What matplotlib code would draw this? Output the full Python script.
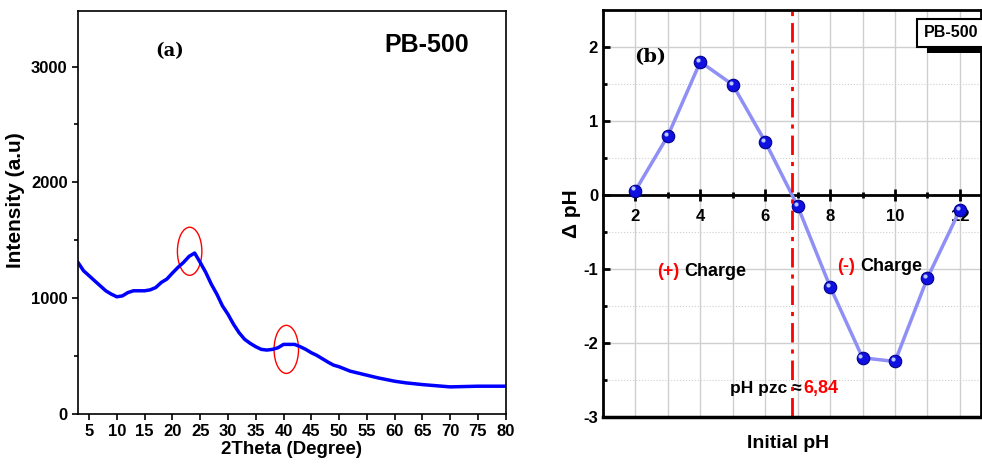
import numpy as np
import matplotlib.pyplot as plt
from matplotlib.patches import Ellipse, Rectangle
from matplotlib.transforms import offset_copy

plt.rcParams['font.family'] = ['Liberation Sans', 'DejaVu Sans']
plt.rcParams['font.weight'] = 'bold'
plt.rcParams['axes.unicode_minus'] = False

# (a) XRD pattern
two_theta = [3, 4, 5, 6, 7, 8, 9, 10, 11, 12, 13, 14, 15, 16, 17, 18, 19, 20,
             21, 22, 23, 24, 25, 26, 27, 28, 29, 30, 31, 32, 33, 34, 35, 36, 37,
             38, 39, 40, 41, 42, 43, 44, 45, 46, 47, 48, 49, 50, 52, 55, 57, 60,
             62, 65, 70, 75, 80]
intensity = [1309, 1237, 1194, 1150, 1107, 1064, 1035, 1012, 1020, 1049, 1064,
             1064, 1064, 1072, 1092, 1136, 1165, 1217, 1266, 1309, 1361, 1390,
             1309, 1223, 1121, 1035, 934, 861, 775, 702, 645, 610, 581, 558, 552,
             558, 572, 601, 601, 601, 581, 558, 529, 506, 477, 448, 422, 408, 370,
             335, 312, 283, 269, 254, 234, 240, 240]
peak_centers = [(23.1, 1405), (40.5, 558)]

# (b) pH drift
ph_initial = [2, 3, 4, 5, 6, 7, 8, 9, 10, 11, 12]
delta_ph = [0.06, 0.80, 1.80, 1.49, 0.72, -0.15, -1.24, -2.20, -2.25, -1.12, -0.20]
ph_pzc = 6.84

fig = plt.figure(figsize=(9.82, 4.68), dpi=100)

# ---------- panel (a) ----------
ax1 = fig.add_axes([0.0794, 0.1154, 0.4356, 0.8611])
ax1.plot(two_theta, intensity, color='#0000ff', lw=2.5)
for cx, cy in peak_centers:
    ax1.add_patch(Ellipse((cx, cy), 4.4, 415, fill=False, ec='red', lw=1))
ax1.set_xlim(3, 80)
ax1.set_ylim(0, 3480)
ax1.set_xticks(np.arange(5, 81, 5))
ax1.set_yticks([0, 1000, 2000, 3000])
ax1.set_yticks([500, 1500, 2500], minor=True)
ax1.tick_params(labelsize=12, direction='out', length=4, width=1.2)
ax1.tick_params(which='minor', length=3, width=1.2)
for s in ax1.spines.values():
    s.set_linewidth(1.2)
ax1.set_xlabel('2Theta (Degree)', fontsize=13.5, fontweight='bold', labelpad=1)
ax1.set_ylabel('Intensity (a.u)', fontsize=15, fontweight='bold')
ax1.yaxis.set_label_coords(-0.125, 0.53)
ax1.text(19.5, 3130, '(a)', family='DejaVu Serif', fontsize=13, fontweight='bold',
         ha='center', va='center')
ax1.text(65.7, 3190, 'PB-500', fontsize=18, fontweight='bold', ha='center', va='center')

# ---------- panel (b) ----------
ax2 = fig.add_axes([0.614, 0.109, 0.385, 0.8696])
ax2.set_xlim(1, 12.65)
ax2.set_ylim(-3, 2.5)
ax2.set_xticks([2, 4, 6, 8, 10, 12])
ax2.set_xticks([3, 5, 7, 9, 11], minor=True)
ax2.set_yticks([-3, -2, -1, 0, 1, 2])
ax2.set_yticks([-2.5, -1.5, -0.5, 0.5, 1.5], minor=True)
ax2.grid(which='major', color='#cfcfcf', lw=1)
ax2.grid(which='minor', axis='x', color='#cfcfcf', lw=1)
ax2.grid(which='minor', axis='y', color='#cfcfcf', lw=0.8, ls=':')
ax2.set_axisbelow(True)

ax2.spines['bottom'].set_position(('data', 0))
ax2.axhline(-3, color='black', lw=2.5, clip_on=False, zorder=5)
for s in ax2.spines.values():
    s.set_linewidth(2)
ax2.tick_params(axis='x', direction='inout', length=8, width=2, labelsize=12, pad=6)
ax2.tick_params(axis='x', which='minor', direction='inout', length=5, width=2)
ax2.tick_params(axis='y', direction='in', length=5, width=2, labelsize=12)
ax2.tick_params(axis='y', which='minor', direction='in', length=3, width=2)

ax2.plot(ph_initial, delta_ph, color='#8f8ff5', lw=2.5, zorder=3)
ax2.plot(ph_initial, delta_ph, ls='none', marker='o', ms=9, mfc='#1010e0',
         mec='#00008a', mew=0.8, zorder=4)
hl = offset_copy(ax2.transData, fig=fig, x=-1.5, y=1.5, units='points')
ax2.plot(ph_initial, delta_ph, ls='none', marker='o', ms=3, mfc='#b8c8ff',
         mec='none', transform=hl, zorder=5)

ax2.axvline(ph_pzc, color='red', lw=2, ls=(0, (7, 2.5, 1.5, 2.5)), zorder=4)

ax2.set_xlabel('Initial pH', fontsize=14, fontweight='bold')
ax2.xaxis.set_label_coords(0.49, -0.045)
ax2.set_ylabel('Δ pH', fontsize=15, fontweight='bold', labelpad=2)

ax2.text(2.45, 1.86, '(b)', family='DejaVu Serif', fontsize=14, fontweight='bold',
         ha='center', va='center')
ax2.text(2.66, -1.03, '(+)', color='red', fontsize=13, fontweight='bold', va='center')
ax2.text(3.49, -1.03, 'Charge', color='black', fontsize=13, fontweight='bold', va='center')
ax2.text(8.23, -0.96, '(-)', color='red', fontsize=13, fontweight='bold', va='center')
ax2.text(8.94, -0.96, 'Charge', color='black', fontsize=13, fontweight='bold', va='center')
ax2.text(7.12, -2.62, 'pH pzc ≈', color='black', fontsize=12.5, fontweight='bold',
         va='center', ha='right')
ax2.text(7.18, -2.62, '6,84', color='red', fontsize=13, fontweight='bold', va='center')

# boxed label with a drop shadow
ax2.add_patch(Rectangle((0.857, 0.894), 0.16, 0.06, transform=ax2.transAxes,
                        fc='black', ec='none', clip_on=False, zorder=5.5))
ax2.text(11.72, 2.19, 'PB-500', fontsize=11.5, fontweight='bold', ha='center', va='center',
         bbox=dict(boxstyle='square,pad=0.4', fc='white', ec='black', lw=1.5),
         clip_on=False, zorder=6)

fig.savefig('out.png', dpi=100)
